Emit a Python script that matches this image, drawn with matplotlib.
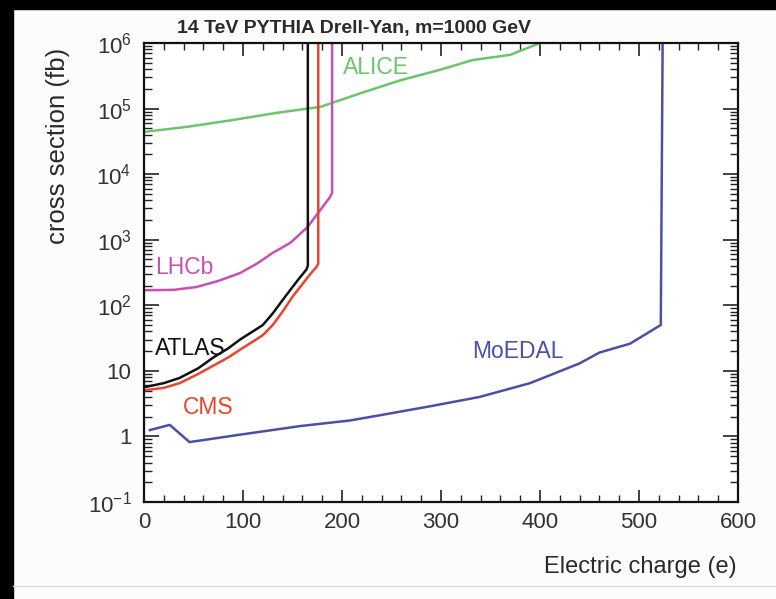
import matplotlib
matplotlib.use("Agg")
import matplotlib.pyplot as plt
from matplotlib.patches import Rectangle
from matplotlib.lines import Line2D
from matplotlib.ticker import FixedLocator, FixedFormatter, LogLocator, NullFormatter, MultipleLocator

plt.rcParams['font.family'] = ['Liberation Sans', 'DejaVu Sans']
plt.rcParams['mathtext.default'] = 'regular'

# ---- data ----
alice_x = [0, 45, 90, 134, 178, 218, 259, 299, 332, 370, 400]
alice_y = [4.4e4, 5.3e4, 6.7e4, 8.6e4, 1.06e5, 1.7e5, 2.7e5, 3.9e5, 5.5e5, 6.6e5, 1.0e6]

lhcb_x = [2, 30, 53, 75, 97, 115, 130, 148, 165, 188, 190, 190]
lhcb_y = [170, 172, 190, 235, 310, 440, 630, 900, 1550, 4500, 5200, 2e6]

atlas_x = [2, 20, 36, 55, 70, 85, 97, 110, 120, 130, 140, 150, 157, 164, 165.5, 165.5]
atlas_y = [5.7, 6.5, 7.8, 11, 16, 22, 30, 40, 50, 75, 120, 190, 260, 350, 400, 2e6]

cms_x = [2, 20, 36, 55, 70, 85, 97, 110, 120, 130, 140, 150, 160, 168, 174, 176, 176]
cms_y = [5.1, 5.5, 6.5, 9, 12, 16, 21, 28, 35, 50, 80, 135, 210, 300, 380, 430, 2e6]

moedal_x = [6, 26, 46, 100, 158, 208, 238, 290, 339, 390, 440, 460, 491, 519, 522, 524]
moedal_y = [1.25, 1.5, 0.82, 1.08, 1.44, 1.75, 2.1, 2.9, 4.0, 6.5, 13, 19, 26, 47, 50, 2e6]

series_names = ["ALICE", "LHCb", "ATLAS", "CMS", "MoEDAL"]
series_colors = ["#6cc56a", "#c94fb2", "#111111", "#e8452c", "#4b4fa8"]

y_ticks = [1e-1, 1, 10, 1e2, 1e3, 1e4, 1e5, 1e6]
y_tick_labels = ["$10^{-1}$", "1", "10", "$10^{2}$", "$10^{3}$", "$10^{4}$", "$10^{5}$", "$10^{6}$"]
x_ticks = [0, 100, 200, 300, 400, 500, 600]

title = "14 TeV PYTHIA Drell-Yan, m=1000 GeV"
xlabel = "Electric charge (e)"
ylabel = "cross section (fb)"

W, H = 776, 599
fig = plt.figure(figsize=(W / 100, H / 100), dpi=100, facecolor="#fcfcfa")

# black frame bands (top, left) and faint bottom line
fig.patches.append(Rectangle((0, 1 - 9 / H), 1, 9 / H, transform=fig.transFigure,
                             color="black", zorder=0))
fig.patches.append(Rectangle((0, 0), 13 / W, 1, transform=fig.transFigure,
                             color="black", zorder=0))
fig.lines.append(Line2D([13 / W, 1], [1 - 586 / H, 1 - 586 / H], transform=fig.transFigure,
                        color="#dcdcdc", lw=1))

ax = fig.add_axes([144 / W, 1 - 502 / H, (738 - 144) / W, (502 - 43) / H])
ax.set_facecolor("white")

data = [(alice_x, alice_y), (lhcb_x, lhcb_y), (atlas_x, atlas_y),
        (cms_x, cms_y), (moedal_x, moedal_y)]
for (xs, ys), c in zip(data, series_colors):
    ax.plot(xs, ys, color=c, lw=1.8, solid_joinstyle="round")

ax.set_yscale("log")
ax.set_xlim(0, 600)
ax.set_ylim(1e-1, 1e6)

ax.yaxis.set_major_locator(FixedLocator(y_ticks))
ax.yaxis.set_major_formatter(FixedFormatter(y_tick_labels))
ax.yaxis.set_minor_locator(LogLocator(base=10, subs=range(2, 10), numticks=20))
ax.yaxis.set_minor_formatter(NullFormatter())
ax.xaxis.set_major_locator(FixedLocator(x_ticks))
ax.xaxis.set_minor_locator(MultipleLocator(20))

ax.tick_params(axis="both", which="both", direction="in", top=True, right=True,
               colors="#222222", labelcolor="#333333")
ax.tick_params(axis="x", which="major", length=9, width=1.2, labelsize=16, pad=7)
ax.tick_params(axis="x", which="minor", length=5, width=1.0)
ax.tick_params(axis="y", which="major", length=11, width=1.2, labelsize=16, pad=9)
ax.tick_params(axis="y", which="minor", length=6, width=1.0)
for s in ax.spines.values():
    s.set_linewidth(1.6)
    s.set_color("#111111")

# series labels
lab_fs = 16.5
ax.text(234, 4.2e5, series_names[0], color=series_colors[0], fontsize=lab_fs,
        ha="center", va="center")
ax.text(11, 380, series_names[1], color=series_colors[1], fontsize=lab_fs,
        ha="left", va="center")
ax.text(11, 22, series_names[2], color=series_colors[2], fontsize=lab_fs,
        ha="left", va="center")
ax.text(39, 2.8, series_names[3], color=series_colors[3], fontsize=lab_fs,
        ha="left", va="center")
ax.text(331, 19.5, series_names[4], color=series_colors[4], fontsize=lab_fs,
        ha="left", va="center")

fig.text(177 / W, 1 - 28 / H, title, fontsize=14, fontweight="bold",
         color="#2a2a2a", ha="left", va="center")
fig.text(737 / W, 1 - 567 / H, xlabel, fontsize=17, color="#2a2a2a",
         ha="right", va="center")
fig.text(58 / W, 1 - 146 / H, ylabel, fontsize=18.5, color="#2a2a2a",
         ha="center", va="center", rotation=90)

fig.savefig("out.png", dpi=100, facecolor=fig.get_facecolor())
